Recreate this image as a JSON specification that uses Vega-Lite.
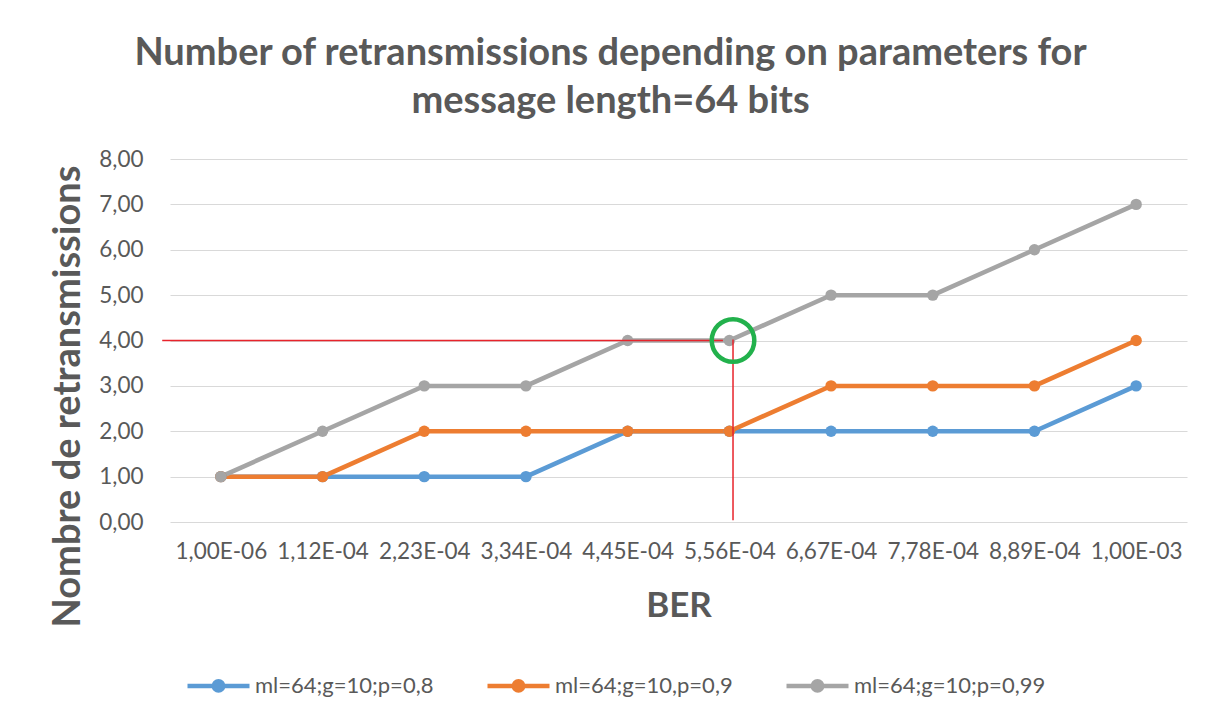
{
  "$schema": "https://vega.github.io/schema/vega-lite/v6.json",
  "width": 1017,
  "height": 363,
  "autosize": {"type": "none"},
  "padding": {"left": 170, "top": 159, "right": 33, "bottom": 203},
  "background": "white",
  "config": {
    "font": "Lato",
    "view": {"stroke": null},
    "axis": {"labelFont": "Lato", "titleFont": "Lato", "labelColor": "#595959", "titleColor": "#595959"}
  },
  "title": {
    "text": ["Number of retransmissions depending on parameters for", "message length=64 bits"],
    "font": "Lato",
    "fontSize": 38,
    "fontWeight": "bold",
    "color": "#595959",
    "anchor": "middle",
    "dx": -68,
    "lineHeight": 48,
    "offset": 27
  },
  "datasets": {
    "series": [
      {"BER": 0.000001, "retransmissions": 1, "series": "ml=64;g=10;p=0,8"},
      {"BER": 0.000112, "retransmissions": 1, "series": "ml=64;g=10;p=0,8"},
      {"BER": 0.000223, "retransmissions": 1, "series": "ml=64;g=10;p=0,8"},
      {"BER": 0.000334, "retransmissions": 1, "series": "ml=64;g=10;p=0,8"},
      {"BER": 0.000445, "retransmissions": 2, "series": "ml=64;g=10;p=0,8"},
      {"BER": 0.000556, "retransmissions": 2, "series": "ml=64;g=10;p=0,8"},
      {"BER": 0.000667, "retransmissions": 2, "series": "ml=64;g=10;p=0,8"},
      {"BER": 0.000778, "retransmissions": 2, "series": "ml=64;g=10;p=0,8"},
      {"BER": 0.000889, "retransmissions": 2, "series": "ml=64;g=10;p=0,8"},
      {"BER": 0.001, "retransmissions": 3, "series": "ml=64;g=10;p=0,8"},
      {"BER": 0.000001, "retransmissions": 1, "series": "ml=64;g=10,p=0,9"},
      {"BER": 0.000112, "retransmissions": 1, "series": "ml=64;g=10,p=0,9"},
      {"BER": 0.000223, "retransmissions": 2, "series": "ml=64;g=10,p=0,9"},
      {"BER": 0.000334, "retransmissions": 2, "series": "ml=64;g=10,p=0,9"},
      {"BER": 0.000445, "retransmissions": 2, "series": "ml=64;g=10,p=0,9"},
      {"BER": 0.000556, "retransmissions": 2, "series": "ml=64;g=10,p=0,9"},
      {"BER": 0.000667, "retransmissions": 3, "series": "ml=64;g=10,p=0,9"},
      {"BER": 0.000778, "retransmissions": 3, "series": "ml=64;g=10,p=0,9"},
      {"BER": 0.000889, "retransmissions": 3, "series": "ml=64;g=10,p=0,9"},
      {"BER": 0.001, "retransmissions": 4, "series": "ml=64;g=10,p=0,9"},
      {"BER": 0.000001, "retransmissions": 1, "series": "ml=64;g=10;p=0,99"},
      {"BER": 0.000112, "retransmissions": 2, "series": "ml=64;g=10;p=0,99"},
      {"BER": 0.000223, "retransmissions": 3, "series": "ml=64;g=10;p=0,99"},
      {"BER": 0.000334, "retransmissions": 3, "series": "ml=64;g=10;p=0,99"},
      {"BER": 0.000445, "retransmissions": 4, "series": "ml=64;g=10;p=0,99"},
      {"BER": 0.000556, "retransmissions": 4, "series": "ml=64;g=10;p=0,99"},
      {"BER": 0.000667, "retransmissions": 5, "series": "ml=64;g=10;p=0,99"},
      {"BER": 0.000778, "retransmissions": 5, "series": "ml=64;g=10;p=0,99"},
      {"BER": 0.000889, "retransmissions": 6, "series": "ml=64;g=10;p=0,99"},
      {"BER": 0.001, "retransmissions": 7, "series": "ml=64;g=10;p=0,99"}
    ],
    "guides": [
      {"x1": -0.000063, "x2": 0.000549, "y1": 4, "y2": 4},
      {"x1": 0.00056, "x2": 0.00056, "y1": 4.02, "y2": 0.04}
    ],
    "highlight": [
      {"BER": 0.00056, "retransmissions": 4}
    ]
  },
  "layer": [
    {
      "data": {"name": "series"},
      "mark": {"type": "line", "strokeWidth": 4.5, "point": {"filled": true, "size": 130}},
      "encoding": {
        "x": {
          "field": "BER",
          "type": "quantitative",
          "scale": {"domain": [-0.0000545, 0.0010555], "nice": false, "zero": false},
          "axis": {
            "values": [0.000001, 0.000112, 0.000223, 0.000334, 0.000445, 0.000556, 0.000667, 0.000778, 0.000889, 0.001],
            "labelExpr": "replace(replace(format(datum.value, '.2e'), '.', ','), 'e-', 'E-0')",
            "grid": false,
            "ticks": false,
            "domain": false,
            "labelFontSize": 22.5,
            "labelPadding": 18,
            "title": "BER",
            "titleFontSize": 35,
            "titleFontWeight": "bold",
            "titlePadding": 26
          }
        },
        "y": {
          "field": "retransmissions",
          "type": "quantitative",
          "scale": {"domain": [0, 8], "nice": false},
          "axis": {
            "values": [0, 1, 2, 3, 4, 5, 6, 7, 8],
            "labelExpr": "replace(format(datum.value, '.2f'), '.', ',')",
            "ticks": false,
            "domain": false,
            "gridColor": "#D9D9D9",
            "gridWidth": 1,
            "labelFontSize": 22.5,
            "labelPadding": 27,
            "title": "Nombre de retransmissions",
            "titleFontSize": 38,
            "titleFontWeight": "bold",
            "titleAngle": -90,
            "titleAlign": "center",
            "titleBaseline": "middle",
            "titleX": -102,
            "titleY": 237
          }
        },
        "color": {
          "field": "series",
          "type": "nominal",
          "scale": {
            "domain": ["ml=64;g=10;p=0,8", "ml=64;g=10,p=0,9", "ml=64;g=10;p=0,99"],
            "range": ["#5B9BD5", "#ED7D31", "#A5A5A5"]
          },
          "legend": {
            "title": null,
            "orient": "none",
            "direction": "horizontal",
            "legendX": 15,
            "legendY": 493,
            "padding": 0,
            "symbolType": "M-1,0L1,0M-0.15,0A0.15,0.15,0,1,1,0.15,0A0.15,0.15,0,1,1,-0.15,0Z",
            "symbolSize": 3844,
            "symbolStrokeWidth": 4.5,
            "labelFontSize": 22,
            "labelLimit": 400,
            "labelColor": "#595959",
            "labelFont": "Lato",
            "labelOffset": 3,
            "columnPadding": 44,
            "encode": {
              "symbols": {
                "update": {
                  "fill": {"scale": "color", "field": "value"},
                  "stroke": {"scale": "color", "field": "value"},
                  "opacity": {"value": 1}
                }
              }
            }
          }
        }
      }
    },
    {
      "data": {"name": "guides"},
      "mark": {"type": "rule", "color": "#E8232B", "strokeWidth": 1.5},
      "encoding": {
        "x": {"field": "x1", "type": "quantitative"},
        "x2": {"field": "x2"},
        "y": {"field": "y1", "type": "quantitative"},
        "y2": {"field": "y2"}
      }
    },
    {
      "data": {"name": "highlight"},
      "mark": {"type": "point", "shape": "circle", "filled": false, "stroke": "#22B14C", "strokeWidth": 4.5, "size": 1810, "opacity": 1},
      "encoding": {
        "x": {"field": "BER", "type": "quantitative"},
        "y": {"field": "retransmissions", "type": "quantitative"}
      }
    }
  ]
}
